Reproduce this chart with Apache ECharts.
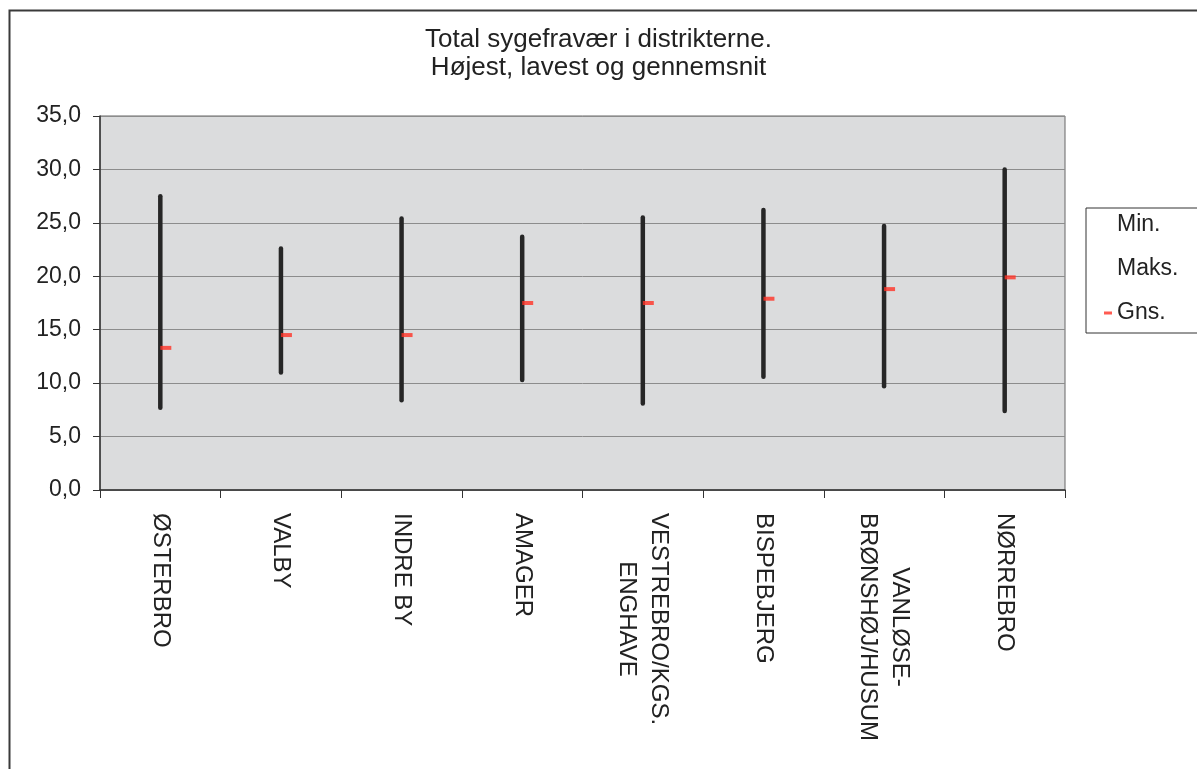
<!DOCTYPE html>
<html>
<head>
<meta charset="utf-8">
<script src="https://cdn.jsdelivr.net/npm/echarts@6/dist/echarts.min.js"></script>
<style>
html,body{margin:0;padding:0;background:#fff;}
#chart{width:1197px;height:769px;}
</style>
</head>
<body>
<div id="chart"></div>
<script>
const categories = ['ØSTERBRO', 'VALBY', 'INDRE BY', 'AMAGER', 'VESTREBRO/KGS.\nENGHAVE', 'BISPEBJERG', 'VANLØSE-\nBRØNSHØJ/HUSUM', 'NØRREBRO'];
const minValues = [7.7, 11.0, 8.4, 10.3, 8.1, 10.6, 9.7, 7.4];
const maxValues = [27.5, 22.6, 25.4, 23.7, 25.5, 26.2, 24.7, 30.0];
const avgValues = [13.3, 14.5, 14.5, 17.5, 17.5, 17.9, 18.8, 19.9];
const yTicks = { min: 0, max: 35, interval: 5 };

const FONT = "'Liberation Sans', Arial, sans-serif";
const chart = echarts.init(document.getElementById('chart'), null, { renderer: 'canvas' });

const hiLoData = categories.map((c, i) => [i, minValues[i], maxValues[i]]);

chart.setOption({
  backgroundColor: '#ffffff',
  animation: false,
  title: {
    text: 'Total sygefravær i distrikterne.\nHøjest, lavest og gennemsnit',
    left: 'center',
    top: 21,
    textStyle: { fontFamily: FONT, fontSize: 26, fontWeight: 'normal', color: '#222', lineHeight: 28 }
  },
  graphic: [{
    type: 'rect', left: 7, top: 8, z: -1,
    shape: { width: 1400, height: 1000 },
    style: { fill: 'none', stroke: '#3a3a3a', lineWidth: 2 }
  }],
  legend: {
    orient: 'vertical',
    left: 1086, top: 208,
    padding: [5, 60, 8, 18],
    itemWidth: 8, itemHeight: 3,
    itemGap: 20,
    symbolKeepAspect: false,
    backgroundColor: '#ffffff',
    borderColor: '#333', borderWidth: 1,
    textStyle: { fontFamily: FONT, fontSize: 23, color: '#222', lineHeight: 24 },
    data: [
      { name: 'Min.', icon: 'none' },
      { name: 'Maks.', icon: 'none' },
      { name: 'Gns.', icon: 'rect' }
    ]
  },
  grid: {
    left: 100, right: 132, top: 116, bottom: 279,
    show: true, backgroundColor: '#dbdcdd', borderColor: '#666', borderWidth: 1
  },
  xAxis: {
    type: 'category',
    data: categories,
    boundaryGap: true,
    axisLine: { lineStyle: { color: '#333', width: 1.5 } },
    axisTick: { show: true, length: 8, interval: 0, lineStyle: { color: '#333' } },
    axisLabel: {
      interval: 0, rotate: -90, margin: 23,
      formatter: v => v.split('\n').map(l => '{c|' + l + '}').join('\n'),
      rich: { c: { fontFamily: FONT, fontSize: 24, color: '#222', align: 'center', lineHeight: 32 } }
    }
  },
  yAxis: {
    type: 'value',
    min: yTicks.min, max: yTicks.max, interval: yTicks.interval,
    axisLine: { show: true, lineStyle: { color: '#333', width: 1.5 } },
    axisTick: { show: true, length: 7, lineStyle: { color: '#333' } },
    axisLabel: {
      margin: 19, fontFamily: FONT, fontSize: 23, color: '#222',
      formatter: v => v.toFixed(1).replace('.', ',')
    },
    splitLine: { lineStyle: { color: '#8c8c8c', width: 1 } }
  },
  series: [
    {
      name: 'HiLo', type: 'custom',
      data: hiLoData,
      encode: { x: 0, y: [1, 2] },
      renderItem: (params, api) => {
        const lo = api.coord([api.value(0), api.value(1)]);
        const hi = api.coord([api.value(0), api.value(2)]);
        return {
          type: 'line',
          shape: { x1: lo[0], y1: lo[1], x2: hi[0], y2: hi[1] },
          style: { stroke: '#262626', lineWidth: 4.5, lineCap: 'round' }
        };
      },
      z: 2
    },
    { name: 'Min.', type: 'scatter', data: minValues, symbolSize: 0, itemStyle: { color: '#222' } },
    { name: 'Maks.', type: 'scatter', data: maxValues, symbolSize: 0, itemStyle: { color: '#222' } },
    {
      name: 'Gns.', type: 'scatter', data: avgValues,
      symbol: 'rect', symbolSize: [11, 4], symbolOffset: [5.5, 0],
      itemStyle: { color: '#ff3226' }, z: 5
    }
  ]
});
</script>
</body>
</html>
